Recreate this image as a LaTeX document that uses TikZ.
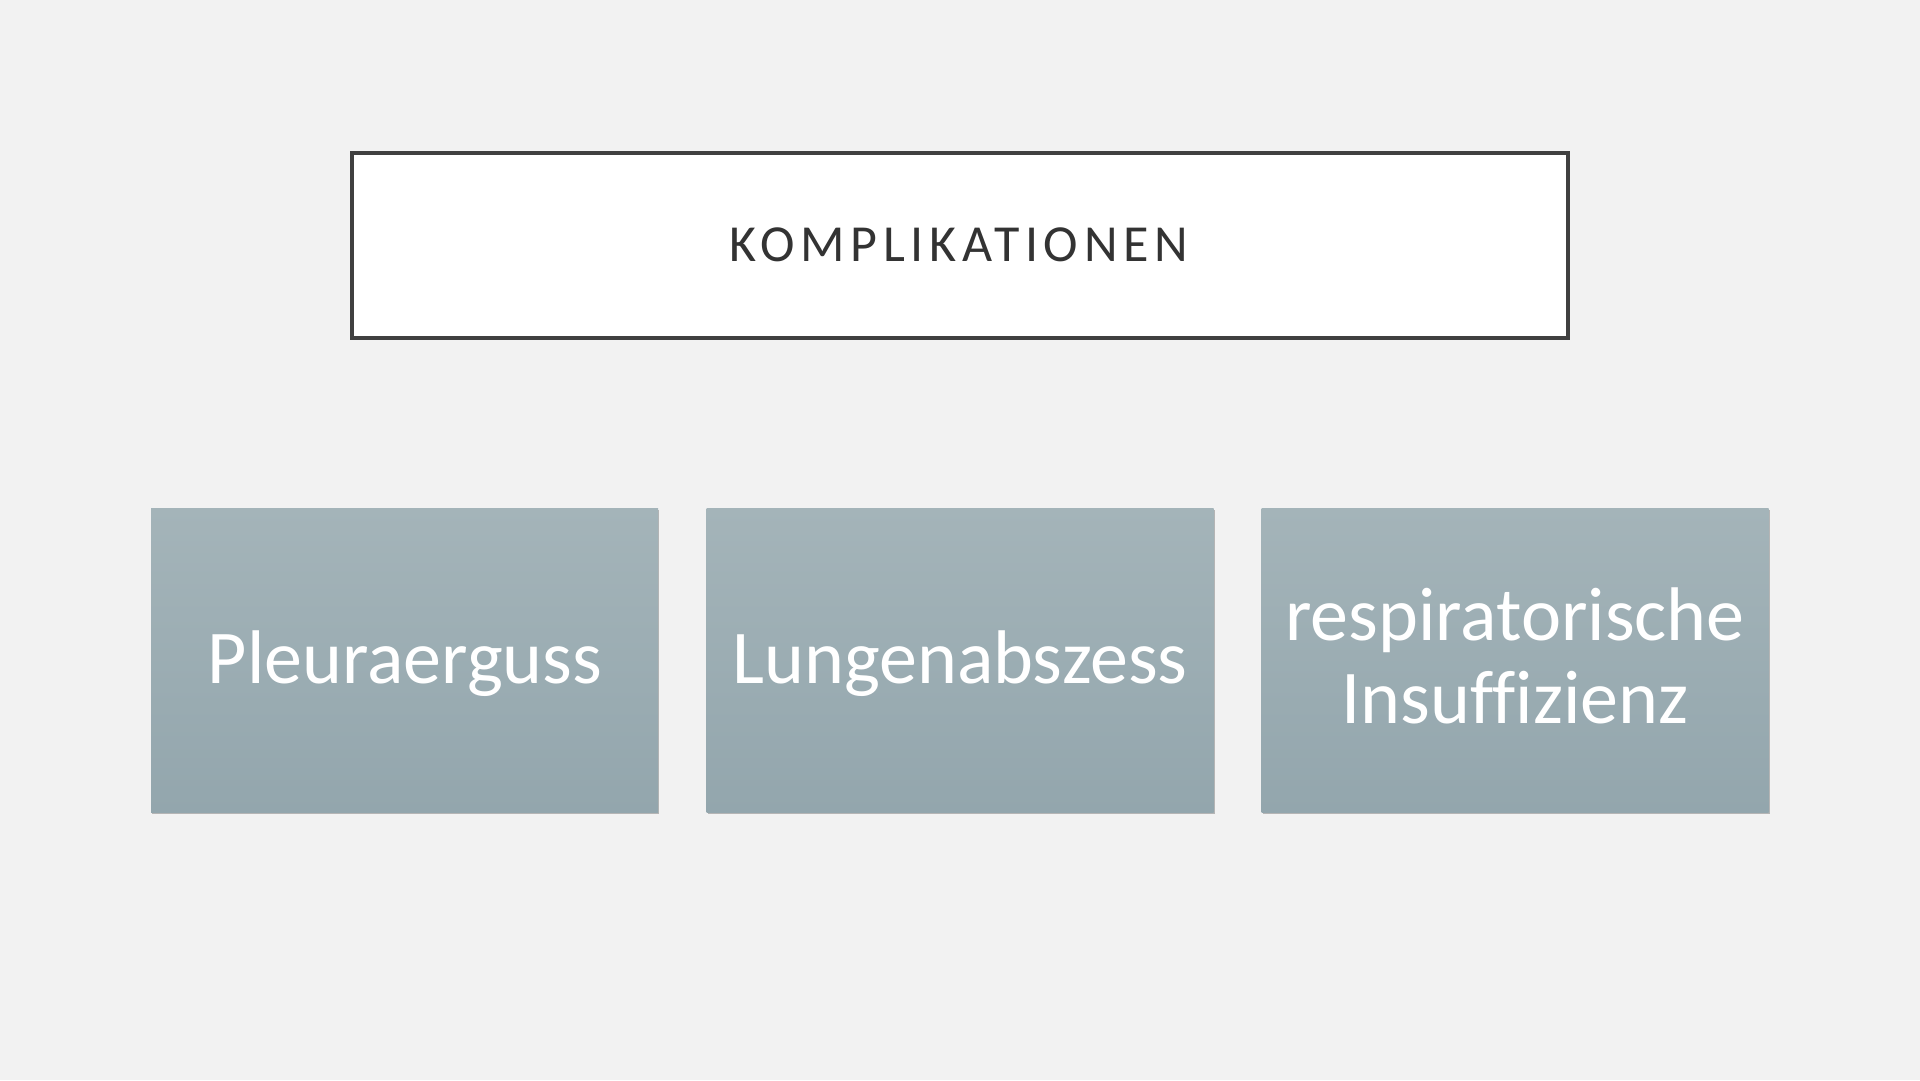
\documentclass[tikz,border=0pt]{standalone}
\usepackage{fontspec}
\setmainfont[Ligatures=NoCommon]{Carlito}
\newfontfamily\titlefont[LetterSpace=11]{Carlito}
\usetikzlibrary{shadows}
\definecolor{bgc}{HTML}{F2F2F2}
\definecolor{boxtop}{HTML}{A4B4B9}
\definecolor{boxbot}{HTML}{93A6AD}
\definecolor{framec}{HTML}{404040}
\definecolor{titlec}{HTML}{333333}
\tikzset{
  titlebox/.style={draw=framec, line width=4pt, fill=white, inner sep=0pt},
  titletext/.style={text=titlec, font=\titlefont\fontsize{52}{60}\selectfont, inner sep=0pt},
  cbox/.style={inner sep=0pt, minimum width=507pt, minimum height=304pt,
    top color=boxtop, bottom color=boxbot,
    drop shadow={shadow xshift=1pt, shadow yshift=-2pt, opacity=0.25, fill=black}},
  ctext/.style={text=white, font=\fontsize{76}{83}\selectfont, inner sep=0pt, anchor=base}
}
\begin{document}
\begin{tikzpicture}[x=1pt,y=-1pt]
\fill[bgc] (0,0) rectangle (1920,1080);
\useasboundingbox (0,0) rectangle (1920,1080);
\node[titlebox, minimum width=1216pt, minimum height=185pt] (t) at (960,245) {};
\node[titletext, anchor=base] (tt) at (959,261) {KOMPLIKATIONEN};
\node[cbox] (b1) at (404.5,660) {};
\node[cbox] (b2) at (960,660) {};
\node[cbox] (b3) at (1515,660) {};
\node[ctext] (l1) at (405,683) {Pleuraerguss};
\node[ctext] (l2) at (960,683) {Lungenabszess};
\node[ctext] (l3a) at (1515,640) {respiratorische};
\node[ctext] (l3b) at (1515,723) {Insuffizienz};
\end{tikzpicture}
\end{document}
